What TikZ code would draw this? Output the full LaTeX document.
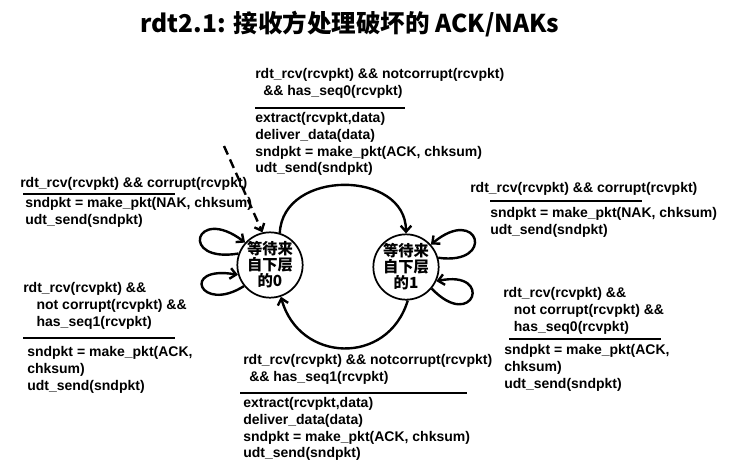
\documentclass[tikz,border=0pt]{standalone}
\usepackage{fontspec}
\setmainfont{Liberation Sans}
\newfontfamily\cjk{Noto Sans CJK SC}
\usetikzlibrary{arrows.meta}

\begin{document}
\begin{tikzpicture}[x=0.75pt, y=-0.75pt,
    state/.style={circle, draw, line width=1.3pt, minimum size=48pt,
                  inner sep=0pt, align=center,
                  font=\cjk\bfseries\fontsize{11.5}{12}\selectfont},
    lbl/.style={anchor=north west, inner sep=0pt, align=left,
                font=\bfseries\fontsize{10.5}{12.6}\selectfont},
    rule/.style={line width=1.6pt},
    arr/.style={-{Straight Barb[length=4.5pt,width=8pt]}, line width=1.8pt}
  ]
    \useasboundingbox (0,0) rectangle (746,472);
    \node[font=\cjk\bfseries\fontsize{18.4}{22}\selectfont] (title) at (350,24)
      {rdt2.1: 接收方处理破坏的 ACK/NAKs};

    \node[state] (S0) at (270,265) {等待来\\自下层\\的0};
    \node[state] (S1) at (406,267) {等待来\\自下层\\的1};
    \coordinate (init) at (224,146);

    \node[lbl] (E01) at (255,68) {rdt\_rcv(rcvpkt) \&\& notcorrupt(rcvpkt)\\\hspace*{6pt}\&\& has\_seq0(rcvpkt)};
    \draw[rule] (255,108) -- (405,108);
    \node[lbl] (A01) at (255,112) {extract(rcvpkt,data)\\deliver\_data(data)\\sndpkt = make\_pkt(ACK, chksum)\\udt\_send(sndpkt)};

    \node[lbl] (E10) at (243,354) {rdt\_rcv(rcvpkt) \&\& notcorrupt(rcvpkt)\\\hspace*{4.5pt}\&\& has\_seq1(rcvpkt)};
    \draw[rule] (240,393) -- (467,393);
    \node[lbl] (A10) at (243,397) {extract(rcvpkt,data)\\deliver\_data(data)\\sndpkt = make\_pkt(ACK, chksum)\\udt\_send(sndpkt)};

    \node[lbl] (E00) at (20,177) {rdt\_rcv(rcvpkt) \&\& corrupt(rcvpkt)};
    \draw[rule] (23,194) -- (175,194);
    \node[lbl] (A00) at (25,197) {sndpkt = make\_pkt(NAK, chksum)\\udt\_send(sndpkt)};

    \node[lbl] (E11) at (470,182) {rdt\_rcv(rcvpkt) \&\& corrupt(rcvpkt)};
    \draw[rule] (490,201) -- (642,201);
    \node[lbl] (A11) at (490,207) {sndpkt = make\_pkt(NAK, chksum)\\udt\_send(sndpkt)};

    \node[lbl] (E0s) at (23,282) {rdt\_rcv(rcvpkt) \&\&\\\hspace*{10pt}not corrupt(rcvpkt) \&\&\\\hspace*{10pt}has\_seq1(rcvpkt)};
    \draw[rule] (23,338) -- (175,338);
    \node[lbl] (A0s) at (27,346) {sndpkt = make\_pkt(ACK,\\chksum)\\udt\_send(sndpkt)};

    \node[lbl] (E1s) at (503,287) {rdt\_rcv(rcvpkt) \&\&\\\hspace*{8pt}not corrupt(rcvpkt) \&\&\\\hspace*{8pt}has\_seq0(rcvpkt)};
    \draw[rule] (509,339) -- (661,339);
    \node[lbl] (A1s) at (504,344) {sndpkt = make\_pkt(ACK,\\chksum)\\udt\_send(sndpkt)};

    \draw[arr, dash pattern=on 7pt off 4pt] (init) -- (S0.103);
    \draw[arr] (S0.73) .. controls +(3,-64) and +(0,-64) .. (S1.90);
    \draw[arr] (S1.273) .. controls +(-20,66) and +(18,66) .. (S0.289);
    \draw[arr] (S0.160) .. controls +(-60,10) and +(-50,-38) .. (S0.138);
    \draw[arr] (S0.219) .. controls +(-44,28) and +(-58,-10) .. (S0.197);
    \draw[arr] (S1.16) .. controls +(58,8) and +(48,-40) .. (S1.42);
    \draw[arr] (S1.320) .. controls +(42,44) and +(58,-12) .. (S1.335);
  \end{tikzpicture}
\end{document}
